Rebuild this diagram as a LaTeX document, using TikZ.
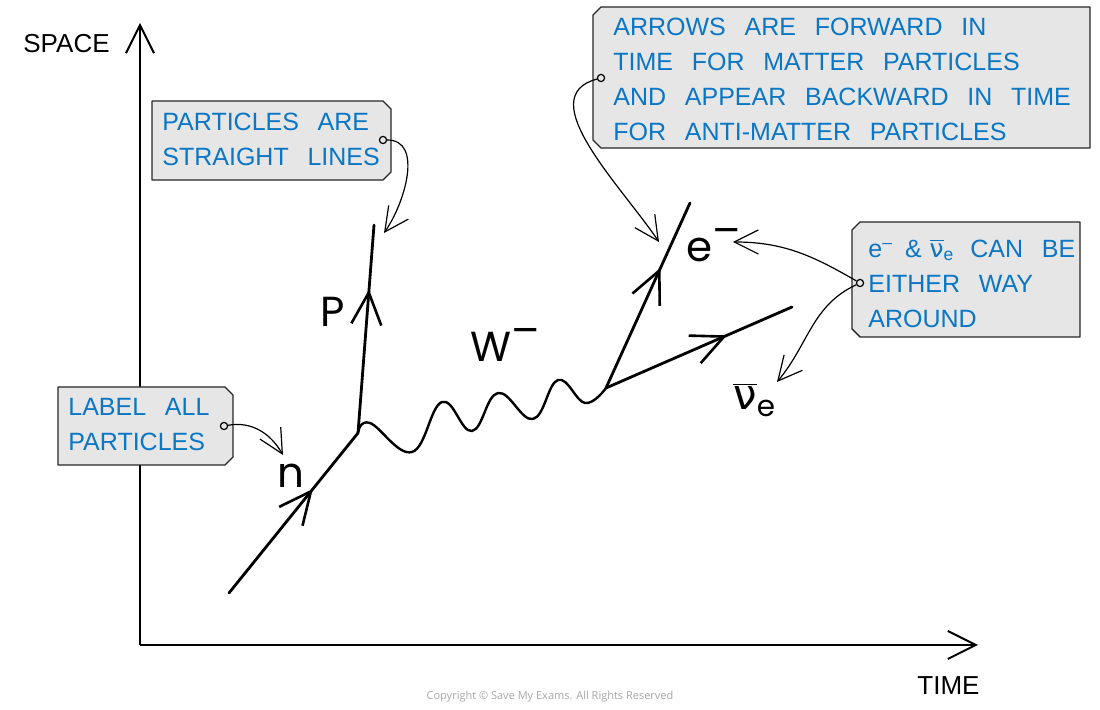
\documentclass[tikz,border=0pt]{standalone}
\usepackage{fontspec}
\newfontfamily\notefont[WordSpace=2.7]{Liberation Sans}
\newfontfamily\labelfont{Poppins}
\newfontfamily\greekfont{DejaVu Sans}
\newfontfamily\copyfont{Open Sans}
\usetikzlibrary{arrows.meta}
\usetikzlibrary{decorations.markings}
\definecolor{noteblue}{HTML}{0A76C4}
\definecolor{notegray}{HTML}{E6E6E6}
\newcommand{\supminus}{\raisebox{0.4em}{–}}
\newcommand{\antinu}{$\overline{\hbox{\greekfont ν}}$}

\begin{document}
\begin{tikzpicture}[x=0.5pt, y=0.5pt,
    particle/.style={line width=1.4pt, line cap=round},
    fwd/.style={postaction={decorate}, decoration={markings,
        mark=at position #1 with {\arrow{Straight Barb[length=16pt, width=15pt, line width=1.3pt]}}}},
    wboson/.style={line width=1.2pt},
    axis/.style={line width=1pt, -{Straight Barb[length=14pt, width=14pt]}},
    notebox/.style={draw=black!85, line width=0.7pt, fill=notegray, line join=round},
    notetext/.style={text=noteblue, font=\notefont\fontsize{12.5}{17.5}\selectfont,
        align=left, inner sep=0pt, anchor=north west},
    pin/.style={circle, draw=black, line width=0.6pt, fill=notegray, inner sep=0pt, minimum size=3.6pt},
    pointer/.style={line width=0.6pt, -{Straight Barb[length=12pt, width=12pt]}},
    plabel/.style={font=\labelfont\fontsize{21}{25}\selectfont, inner sep=0pt},
    axlabel/.style={font=\notefont\fontsize{13}{15}\selectfont, inner sep=0pt},
]
    \useasboundingbox (0,0) rectangle (1100,-710);

    % Space-time axes
    \coordinate (origin) at (140,-645);
    \coordinate (spacetop) at (140,-23);
    \coordinate (timeend) at (978,-645);
    \draw[axis] (origin) -- (spacetop);
    \draw[axis] (origin) -- (timeend);
    \node[axlabel, anchor=base west] (lspace) at (23,-53) {SPACE};
    \node[axlabel, anchor=base west] (ltime) at (917,-695) {TIME};

    % Vertices and particle lines
    \coordinate (nstart) at (229,-593);
    \coordinate (vnp) at (358,-433);
    \coordinate (ptop) at (374,-225);
    \coordinate (vwe) at (606,-388);
    \coordinate (etop) at (690,-203);
    \coordinate (nuend) at (792,-307);
    \draw[particle, fwd=0.65] (nstart) -- (vnp);
    \draw[particle, fwd=0.69] (vnp) -- (ptop);
    \draw[particle, fwd=0.65] (vwe) -- (etop);
    \draw[particle, fwd=0.65] (vwe) -- (nuend);

    % W boson
    \draw[wboson] plot[smooth, tension=0.7] coordinates {(vnp) (370,-423) (412,-452) (442,-402)
        (472,-431) (498,-393) (533,-419) (558,-380) (585,-403) (vwe)};

    % Particle labels
    \node[plabel, anchor=base] (lp) at (333,-327) {P};
    \node[plabel, anchor=base] (ln) at (291,-488) {n};
    \node[plabel, anchor=base west] (lw) at (470,-362) {W\supminus};
    \node[plabel, anchor=base west] (le) at (686,-262) {e\supminus};
    \node[plabel, anchor=base west] (lnu) at (733,-410) {\antinu\textsubscript{e}};

    % Notes
    \draw[notebox] (152,-101) -- (383,-101) -- (391,-109) -- (391,-172) -- (383,-180) -- (152,-180) -- cycle;
    \node[notetext] (tlines) at (162,-113) {PARTICLES ARE\\STRAIGHT LINES};
    \draw[notebox] (601,-7) -- (1090,-7) -- (1090,-148) -- (601,-148) -- (593,-140) -- (593,-15) -- cycle;
    \node[notetext] (tarrows) at (613,-18) {ARROWS ARE FORWARD IN\\TIME FOR MATTER PARTICLES\\AND APPEAR BACKWARD IN TIME\\FOR ANTI-MATTER PARTICLES};
    \draw[notebox] (860,-222) -- (1080,-222) -- (1080,-337) -- (860,-337) -- (852,-329) -- (852,-230) -- cycle;
    \node[notetext] (teither) at (868,-239) {e\textsuperscript{–}\hspace{6pt}\&\hspace{4pt}\antinu\textsubscript{e}\hspace{8pt}CAN BE\\EITHER WAY\\AROUND};
    \draw[notebox] (58,-387) -- (225,-387) -- (233,-395) -- (233,-457) -- (225,-465) -- (58,-465) -- cycle;
    \node[notetext] (tlabel) at (68,-398) {LABEL ALL\\PARTICLES};

    % Pointers
    \node[pin] (pinlines) at (383,-140) {};
    \node[pin] (pinarrows) at (601,-78) {};
    \node[pin] (pineither) at (860,-283) {};
    \node[pin] (pinlabel) at (224,-426) {};
    \coordinate (tipp) at (384,-233);
    \coordinate (tipe) at (659,-242);
    \coordinate (tipel) at (733,-242);
    \coordinate (tipnu) at (777,-382);
    \coordinate (tipn) at (283,-455);
    \draw[pointer] (pinlines) to[out=0, in=55] (tipp);
    \draw[pointer] (pinarrows) to[out=195, in=124] (tipe);
    \draw[pointer] (pineither) to[out=150, in=0] (tipel);
    \draw[pointer] (pineither) to[out=205, in=50] (tipnu);
    \draw[pointer] (pinlabel) to[out=10, in=120] (tipn);

    \node[font=\copyfont\fontsize{5.5}{6}\selectfont, text=black!35] (copy) at (550,-697) {Copyright © Save My Exams. All Rights Reserved};
\end{tikzpicture}
\end{document}
